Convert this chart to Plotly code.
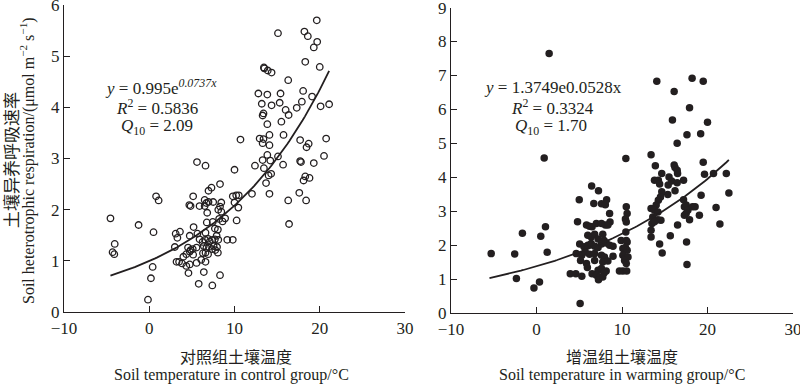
import numpy as np
import plotly.graph_objects as go

# ---------------- data ----------------
control_temp = [
    19.65, 15.1, 18.2, 18.6, 19.7, 19.3, 18.3, 20.0,
    13.45, 13.5, 13.9, 14.35, 16.3,
    12.8, 13.85, 15.4, 18.05, 19.1,
    13.2, 14.35, 15.3, 17.9, 17.3, 16.0, 16.35, 13.4, 13.3, 20.1, 21.1,
    13.85, 15.5,
    10.7, 12.95, 13.4, 14.1, 13.3, 14.1, 15.75, 17.7, 18.7, 18.45, 20.75,
    13.85, 15.1, 13.3, 14.2, 17.7, 17.8, 19.3, 20.5, 15.7,
    5.6, 6.6, 12.4, 13.45, 10.0,
    14.0, 14.3, 13.7, 14.1, 12.05,
    18.1, 18.3, 18.8, 17.6, 16.3, 18.4, 16.4,
    8.3, 7.3, 6.95, 5.15, 6.5, 6.7, 6.95, 7.5, 8.45,
    9.8, 10.2, 10.5, 10.0, 10.45, 10.25,
    4.7, 4.85, 5.9, 6.5, 6.8, 8.3, 8.45, 8.1,
    0.8, 1.1, -4.55, -1.25, 0.5, -4.05, -4.3, -4.1, 0.4, 0.2, -0.15,
    6.75, 5.2, 7.45, 8.2, 8.6, 8.9, 7.7, 8.05, 9.15, 9.8,
    3.1, 3.6, 3.3, 4.75, 5.65, 6.6,
    3.0, 4.55, 4.85, 5.1, 5.55,
    5.9, 6.25, 6.55, 6.9, 7.1, 7.4, 7.7, 7.9, 8.1,
    6.4, 6.7, 7.0, 7.35, 7.55, 7.75, 7.95,
    6.3, 6.6, 6.9, 8.05,
    4.0, 4.35, 4.75, 5.15,
    3.2, 3.5, 3.85, 4.35, 4.75, 5.55, 6.1, 6.6,
    4.6, 6.4, 8.3, 5.8, 7.4,
]
control_resp = [
    5.70, 5.45, 5.48, 5.39, 5.28, 5.17, 4.89, 4.79,
    4.78, 4.76, 4.72, 4.68, 4.53,
    4.27, 4.25, 4.27, 4.32, 4.21,
    4.07, 4.04, 4.09, 4.11, 3.99, 3.95, 3.85, 3.88, 3.84, 4.02, 4.06,
    3.67, 3.72,
    3.37, 3.39, 3.38, 3.46, 3.30, 3.26, 3.46, 3.36, 3.29, 3.22, 3.39,
    3.07, 3.04, 2.97, 2.96, 2.95, 2.93, 2.91, 3.05, 2.88,
    2.93, 2.86, 2.86, 2.81, 2.78,
    2.67, 2.70, 2.52, 2.31, 2.31,
    2.57, 2.65, 2.62, 2.33, 2.18, 2.18, 1.72,
    2.50, 2.43, 2.37, 2.26, 2.19, 2.13, 2.15, 2.15, 2.14,
    2.26, 2.28, 2.28, 2.14, 2.04, 1.79,
    2.09, 2.07, 2.07, 2.07, 1.94, 2.06, 1.96, 2.00,
    2.26, 2.18, 1.83, 1.70, 1.56, 1.33, 1.17, 1.13, 0.88, 0.66, 0.24,
    1.75, 1.66, 1.76, 1.82, 1.77, 1.83, 1.63, 1.61, 1.41, 1.41,
    1.53, 1.57, 1.45, 1.49, 1.53, 1.55,
    1.27, 1.26, 1.21, 1.23, 1.26,
    1.42, 1.37, 1.41, 1.43, 1.38, 1.41, 1.42, 1.49, 1.41,
    1.29, 1.25, 1.27, 1.23, 1.29, 1.21, 1.27,
    1.15, 1.16, 1.13, 1.16,
    1.08, 1.13, 1.18, 1.12,
    0.98, 0.98, 0.95, 0.90, 0.93, 0.96, 1.02, 0.98,
    0.76, 0.78, 0.72, 0.55, 0.52,
]

warming_temp = [
    1.48, 14.07, 18.2, 19.5, 16.1, 17.9, 15.9, 20.0, 17.6, 19.2, 16.45, 0.9, 10.45, 13.4, 13.9, 16.1, 19.5,
    -5.3, -2.55, -1.65, -2.35, -0.3, 0.35, 0.5, 1.05, 1.25,
    5.0, 4.8, 5.1, 3.95, 4.6, 5.3,
    6.45, 7.25, 6.7, 7.6, 8.05, 8.2, 10.5, 10.6, 8.55, 8.6, 10.4, 10.5,
    5.85, 6.2, 6.5, 7.0, 7.6, 8.05, 8.35, 10.45,
    6.0, 6.4, 6.8, 7.2, 7.75, 7.9, 9.9, 10.5, 10.6,
    5.05, 5.55, 6.0, 6.4, 6.8, 7.2, 7.6, 8.15, 8.55, 8.95,
    10.1, 10.4, 10.6,
    4.65, 5.3, 5.7, 6.2, 6.8, 7.6, 7.95, 8.95, 10.1, 10.4, 10.7,
    5.15, 5.85, 6.8, 7.75, 8.35, 10.3, 10.5,
    5.95, 7.2, 7.6, 8.15, 9.7, 10.1, 10.55,
    6.5, 7.0, 7.4, 7.9, 7.25, 7.75,
    14.65, 13.8, 14.25, 14.4, 15.5, 16.2, 16.45, 16.5, 15.4, 15.8, 16.45, 17.2, 16.2, 15.35, 14.65,
    14.5, 14.25, 14.0, 13.4, 13.8, 14.2, 13.6, 14.2, 14.55, 13.5, 13.8, 13.4, 13.4, 14.4, 14.7,
    15.65, 16.5, 17.2,
    17.3, 17.5, 17.7, 17.5, 17.3, 17.9, 18.25, 18.55,
    17.55, 17.6, 19.05, 19.25, 19.65, 20.7, 21.0, 21.45, 22.2, 22.5,
]
warming_resp = [
    7.65, 6.83, 6.92, 6.83, 6.53, 6.05, 5.69, 5.62, 5.25, 5.28, 5.00, 4.57, 4.55, 4.66, 4.34, 4.36, 4.44,
    1.75, 1.74, 2.35, 1.02, 0.74, 0.91, 2.26, 2.54, 1.79,
    3.34, 2.69, 0.28, 1.16, 1.16, 1.08,
    3.74, 3.60, 3.23, 3.22, 3.19, 3.34, 3.13, 2.93, 2.93, 2.68, 2.77, 2.68,
    2.59, 2.56, 2.54, 2.64, 2.64, 2.59, 2.59, 2.39,
    2.29, 2.24, 2.32, 2.18, 2.32, 2.14, 2.14, 2.14, 2.09,
    2.03, 1.95, 2.00, 2.05, 1.97, 1.93, 2.03, 2.06, 2.00, 1.97,
    1.90, 1.93, 1.85,
    1.75, 1.70, 1.80, 1.73, 1.75, 1.70, 1.65, 1.67, 1.70, 1.60, 1.65,
    1.55, 1.46, 1.55, 1.50, 1.53, 1.55, 1.46,
    1.34, 1.26, 1.31, 1.24, 1.24, 1.24, 1.24,
    1.16, 1.11, 1.06, 1.18, 0.98, 1.06,
    4.11, 3.91, 3.91, 3.80, 4.01, 4.29, 4.21, 4.11, 3.77, 3.89, 3.84, 3.91, 3.60, 3.49, 3.57,
    3.42, 3.32, 3.18, 3.08, 3.03, 2.98, 2.83, 2.75, 2.73, 2.64, 2.69, 2.44, 2.24, 2.03, 1.77,
    2.28, 2.59, 3.34,
    3.13, 3.18, 3.03, 2.93, 2.88, 2.75, 3.13, 3.13,
    2.09, 1.43, 2.88, 3.47, 4.09, 4.11, 3.11, 2.62, 4.11, 3.54,
]

# fitted models printed on the chart
control_fit = (0.995, 0.0737)
control_fit_range = (-4.55, 21.1)
warming_fit = (1.3749, 0.0528)
warming_fit_range = (-5.5, 22.5)

x_ticks = [-10, 0, 10, 20, 30]
y_ticks_left = [0, 1, 2, 3, 4, 5, 6]
y_ticks_right = [0, 1, 2, 3, 4, 5, 6, 7, 8, 9]

# ---------------- figure ----------------
W, H = 800, 384
SERIF = "Liberation Serif, Times New Roman, serif"
CJK = "Noto Sans CJK SC, sans-serif"
AX = "#231f20"

def fx(px):
    return px / W

def fy(py):
    return 1 - py / H

fig = go.Figure()

fig.add_trace(go.Scatter(
    x=control_temp, y=control_resp, mode="markers", xaxis="x", yaxis="y",
    marker=dict(symbol="circle-open", size=6.5, color=AX, line=dict(width=1.3, color=AX)),
    showlegend=False))
cx = np.linspace(*control_fit_range, 100)
fig.add_trace(go.Scatter(
    x=cx, y=control_fit[0] * np.exp(control_fit[1] * cx), mode="lines", xaxis="x", yaxis="y",
    line=dict(color=AX, width=1.8), showlegend=False))

fig.add_trace(go.Scatter(
    x=warming_temp, y=warming_resp, mode="markers", xaxis="x2", yaxis="y2",
    marker=dict(symbol="circle", size=7.5, color=AX, line=dict(width=0)),
    showlegend=False))
wx = np.linspace(*warming_fit_range, 100)
fig.add_trace(go.Scatter(
    x=wx, y=warming_fit[0] * np.exp(warming_fit[1] * wx), mode="lines", xaxis="x2", yaxis="y2",
    line=dict(color=AX, width=1.8), showlegend=False))

axis_common = dict(
    showline=True, linecolor=AX, linewidth=1.3, ticks="inside", ticklen=6,
    tickcolor=AX, tickwidth=1.2, showgrid=False, zeroline=False,
    automargin=False, ticklabeloverflow="allow",
    tickfont=dict(family=SERIF, size=17, color=AX),
)

fig.update_layout(
    width=W, height=H,
    margin=dict(l=0, r=0, t=0, b=0, autoexpand=False),
    paper_bgcolor="white", plot_bgcolor="white",
    xaxis=dict(domain=[fx(64), fx(405)], range=[-10, 30], tickvals=x_ticks, anchor="y", **axis_common),
    yaxis=dict(domain=[fy(312), fy(5)], range=[0, 6], tickvals=y_ticks_left, anchor="x", **axis_common),
    xaxis2=dict(domain=[fx(451), fx(793)], range=[-10, 30], tickvals=x_ticks, anchor="y2", **axis_common),
    yaxis2=dict(domain=[fy(313), fy(7.6)], range=[0, 9], tickvals=y_ticks_right, anchor="x2", **axis_common),
)

def ann(text, x, y, size, family=SERIF, angle=0):
    fig.add_annotation(text=text, x=fx(x), y=fy(y), xref="paper", yref="paper",
                       showarrow=False, xanchor="center", yanchor="middle", textangle=angle,
                       font=dict(family=family, size=size, color=AX))

# equations
ann("<i>y</i> = 0.995e<sup><i>0.0737x</i></sup>", 161, 87, 17)
ann("<i>R</i><sup>2</sup> = 0.5836", 157, 107, 17)
ann("<i>Q</i><sub>10</sub> = 2.09", 157, 127, 17)
ann("<i>y</i> = 1.3749e0.0528x", 553, 88, 17)
ann("<i>R</i><sup>2</sup> = 0.3324", 552, 107, 17)
ann("<i>Q</i><sub>10</sub> = 1.70", 551, 127, 17)

# axis titles
ann("对照组土壤温度", 236, 356, 16, CJK)
ann("Soil temperature in control group/°C", 231, 375, 16)
ann("增温组土壤温度", 622, 356, 16, CJK)
ann("Soil temperature in warming group/°C", 622, 375, 16)
ann("土壤异养呼吸速率", 10, 160, 17, CJK, -90)
ann("Soil heterotrophic respiration/(μmol m<sup>−2</sup> s<sup>−1</sup>)", 28, 161, 16, SERIF, -90)

# remove the browser's default 8 px body margin so the figure sits at the window corner
fig.write_html("out.html",
               config={"displayModeBar": False},
               post_script="document.body.style.margin='0';document.body.style.overflow='hidden';")
